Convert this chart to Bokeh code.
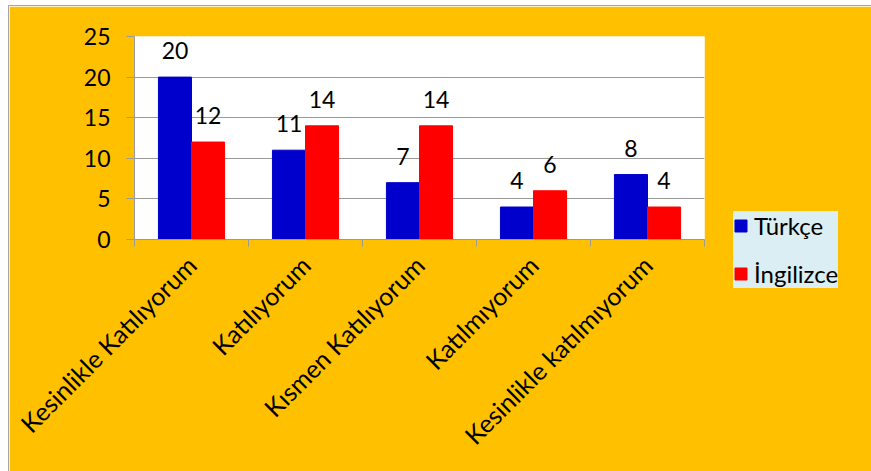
import numpy as np
from bokeh.plotting import figure
from bokeh.models import Range1d, FixedTicker, ColumnDataSource, LabelSet
from bokeh.core.properties import value
from bokeh.embed import file_html
from bokeh.resources import INLINE

categories = ["Kesinlikle Katılıyorum", "Katılıyorum", "Kısmen Katılıyorum",
              "Katılmıyorum", "Kesinlikle katılmıyorum"]
turkce = [20, 11, 7, 4, 8]
ingilizce = [12, 14, 14, 6, 4]
series_names = ["Türkçe", "İngilizce"]
y_ticks = [0, 5, 10, 15, 20, 25]

FONT = "Lato"
GOLD = "#FFC000"
GRAY = "#9a9a9a"

centers = np.arange(len(categories)) + 0.5
bw = 0.29

src_t = ColumnDataSource(dict(x=centers - bw / 2, y=turkce, t=[str(v) for v in turkce]))
src_i = ColumnDataSource(dict(x=centers + bw / 2, y=ingilizce, t=[str(v) for v in ingilizce]))

p = figure(frame_width=570, frame_height=203, output_backend="svg", toolbar_location=None,
           x_range=Range1d(0, len(categories)), y_range=Range1d(0, 25),
           min_border_left=125, min_border_right=168, min_border_top=30, min_border_bottom=233,
           margin=(5, 0, 0, 8),
           styles={"border-top": "1px solid #a6a6a6", "border-left": "1px solid #a6a6a6"})
p.border_fill_color = GOLD
p.background_fill_color = "white"
p.outline_line_color = None

p.vbar(x="x", top="y", width=bw, source=src_t, color="#0000CC", legend_label=series_names[0])
p.vbar(x="x", top="y", width=bw, source=src_i, color="#FF0000", legend_label=series_names[1])

for src in (src_t, src_i):
    p.add_layout(LabelSet(x="x", y="y", text="t", source=src, y_offset=18,
                          text_align="center", text_baseline="alphabetic",
                          text_font=value(FONT), text_font_size="23px", text_color="black"))

# axes
p.xgrid.grid_line_color = None
p.ygrid.grid_line_color = GRAY
p.ygrid.ticker = FixedTicker(ticks=y_ticks)

p.yaxis.ticker = FixedTicker(ticks=y_ticks)
p.yaxis.axis_line_color = GRAY
p.yaxis.major_tick_line_color = GRAY
p.yaxis.major_tick_out = 8
p.yaxis.major_tick_in = 0
p.yaxis.minor_tick_line_color = None
p.yaxis.major_label_standoff = 16
p.yaxis.major_label_text_font = FONT
p.yaxis.major_label_text_font_size = "23px"
p.yaxis.major_label_text_color = "black"

p.xaxis.ticker = FixedTicker(ticks=list(centers), minor_ticks=list(range(len(categories) + 1)))
p.xaxis.major_label_overrides = {float(c): lab for c, lab in zip(centers, categories)}
p.xaxis.major_label_orientation = np.pi / 4
p.xaxis.axis_line_color = GRAY
p.xaxis.major_tick_line_color = None
p.xaxis.minor_tick_line_color = GRAY
p.xaxis.minor_tick_out = 7
p.xaxis.minor_tick_in = 0
p.xaxis.major_label_standoff = 14
p.xaxis.major_label_text_font = FONT
p.xaxis.major_label_text_font_size = "25px"
p.xaxis.major_label_text_color = "black"

leg = p.legend[0]
p.center.remove(leg)
p.add_layout(leg, "right")
leg.location = (29, -49)
leg.background_fill_color = "#DAEEF3"
leg.background_fill_alpha = 1
leg.border_line_color = None
leg.padding = 18
leg.margin = 0
leg.spacing = 19
leg.glyph_width = 15
leg.glyph_height = 15
leg.label_height = 22
leg.label_standoff = 6
leg.label_text_font = FONT
leg.label_text_font_size = "24px"
leg.label_text_color = "black"

open("out.html", "w").write(file_html(p, INLINE))
